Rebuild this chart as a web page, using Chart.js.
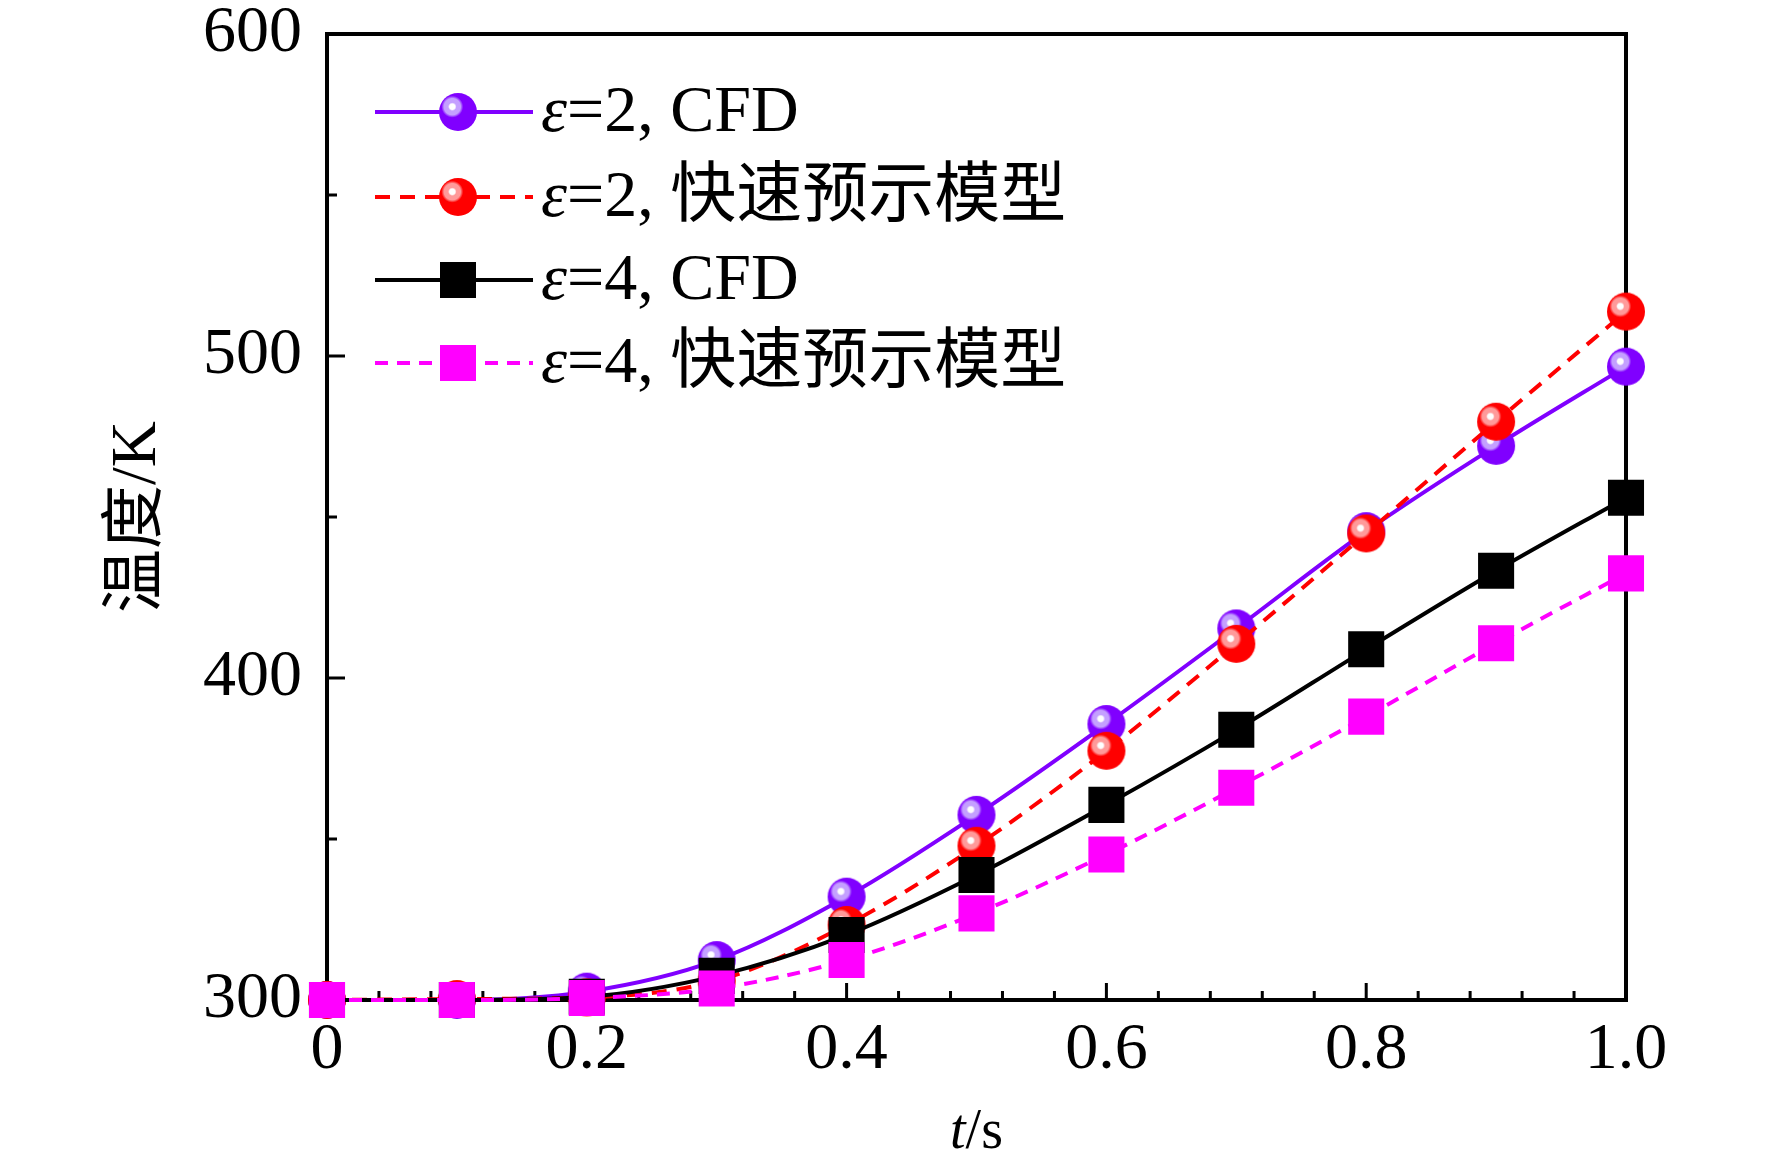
<!DOCTYPE html>
<html>
<head>
<meta charset="utf-8">
<script src="https://cdn.jsdelivr.net/npm/chart.js@4.4.1/dist/chart.umd.min.js"></script>
<style>
  html, body { margin: 0; padding: 0; background: #fff; }
  canvas { display: block; }
</style>
</head>
<body>
<canvas id="tempChart" width="1772" height="1168"></canvas>
<script>
// time points (s) and temperatures (K)
const tValues = [0, 0.1, 0.2, 0.3, 0.4, 0.5, 0.6, 0.7, 0.8, 0.9, 1.0];
const cfdEps2 = [300, 300, 302.6, 312.4, 332.1, 357.5, 385.7, 415.4, 445.6, 472.1, 496.7];
const modelEps2 = [300, 300.3, 300.8, 306.0, 323.3, 347.9, 377.4, 410.6, 444.9, 479.6, 513.8];
const cfdEps4 = [300, 300, 301.0, 307.5, 320.2, 338.8, 360.6, 383.9, 408.9, 433.3, 456.0];
const modelEps4 = [300, 300, 300.6, 303.6, 312.4, 326.9, 345.2, 365.9, 388.0, 410.8, 432.5];

const seriesLabels = ['=2, CFD', '=2, 快速预示模型', '=4, CFD', '=4, 快速预示模型'];
const xTickLabels = ['0', '0.2', '0.4', '0.6', '0.8', '1.0'];
const yTickLabels = ['300', '400', '500', '600'];

const SERIF = "'Liberation Serif', 'Times New Roman', 'Noto Sans CJK SC', serif";
const FONT_SIZE = 66;
const LEGEND_SIZE = 66;

// shiny sphere marker, like the Origin "ball" symbol
function makeBall(color, light, r) {
    const size = Math.ceil(2 * r + 2);
    const c = document.createElement('canvas');
    c.width = size;
    c.height = size;
    const g = c.getContext('2d');
    const cx = size / 2, cy = size / 2;
    const hx = cx - r * 0.3, hy = cy - r * 0.28;
    const grad = g.createRadialGradient(hx, hy, 0, hx, hy, r * 1.6);
    grad.addColorStop(0, '#ffffff');
    grad.addColorStop(0.09, '#ffffff');
    grad.addColorStop(0.14, light);
    grad.addColorStop(0.27, light);
    grad.addColorStop(0.36, color);
    grad.addColorStop(1, color);
    g.fillStyle = grad;
    g.beginPath();
    g.arc(cx, cy, r, 0, Math.PI * 2);
    g.fill();
    return c;
}

const purpleBall = makeBall('#8000ff', '#c4a0ff', 19);
const redBall = makeBall('#ff0000', '#ff9a9a', 19);

const series = [
    { label: seriesLabels[0], data: cfdEps2, color: '#8000ff', dash: [], point: purpleBall, radius: 19 },
    { label: seriesLabels[1], data: modelEps2, color: '#ff0000', dash: [15, 10], point: redBall, radius: 19 },
    { label: seriesLabels[2], data: cfdEps4, color: '#000000', dash: [], point: 'rect', radius: 25.5 },
    { label: seriesLabels[3], data: modelEps4, color: '#ff00ff', dash: [13, 9], point: 'rect', radius: 25.5 }
];

// frame, inward ticks, axis titles and the legend
const decorations = {
    id: 'decorations',
    beforeDatasetsDraw(chart) {
        const { ctx, chartArea: a, scales: { x, y } } = chart;
        ctx.save();
        ctx.strokeStyle = '#000';
        ctx.lineWidth = 4;
        ctx.strokeRect(a.left, a.top, a.right - a.left, a.bottom - a.top);

        ctx.lineWidth = 3;
        ctx.beginPath();
        for (let i = 0; i <= 25; i++) {
            const px = x.getPixelForValue(i * 0.04);
            const len = i % 5 === 0 ? 17 : 9;
            ctx.moveTo(px, a.bottom);
            ctx.lineTo(px, a.bottom - len);
        }
        for (let i = 0; i <= 6; i++) {
            const py = y.getPixelForValue(300 + i * 50);
            const len = i % 2 === 0 ? 18 : 10;
            ctx.moveTo(a.left, py);
            ctx.lineTo(a.left + len, py);
        }
        ctx.stroke();
        ctx.restore();
    },
    afterDatasetsDraw(chart) {
        const { ctx, chartArea: a } = chart;
        ctx.save();
        ctx.fillStyle = '#000';
        ctx.textBaseline = 'alphabetic';

        // x title: italic t + "/s"
        ctx.font = 'italic 56px ' + SERIF;
        const wT = ctx.measureText('t').width;
        ctx.font = '56px ' + SERIF;
        const wS = ctx.measureText('/s').width;
        const cx = (a.left + a.right) / 2;
        let sx = cx - (wT + wS) / 2;
        ctx.font = 'italic 56px ' + SERIF;
        ctx.fillText('t', sx, 1148);
        ctx.font = '56px ' + SERIF;
        ctx.fillText('/s', sx + wT, 1148);

        // y title
        ctx.save();
        ctx.translate(138, 517);
        ctx.rotate(-Math.PI / 2);
        ctx.textAlign = 'center';
        ctx.textBaseline = 'middle';
        ctx.font = '64px ' + SERIF;
        ctx.fillText('温度/K', 0, 0);
        ctx.restore();

        // legend
        const rows = [112, 197, 280, 363];
        series.forEach((s, i) => {
            const ry = rows[i];
            ctx.save();
            ctx.strokeStyle = s.color;
            ctx.lineWidth = 4;
            ctx.setLineDash(s.dash);
            ctx.beginPath();
            ctx.moveTo(375, ry);
            ctx.lineTo(533, ry);
            ctx.stroke();
            ctx.restore();
            if (s.point === 'rect') {
                const side = 36;
                ctx.fillStyle = s.color;
                ctx.fillRect(458 - side / 2, ry - side / 2, side, side);
            } else {
                ctx.drawImage(s.point, 458 - s.point.width / 2, ry - s.point.height / 2);
            }
            ctx.fillStyle = '#000';
            ctx.font = 'italic ' + LEGEND_SIZE + 'px ' + SERIF;
            ctx.fillText('ε', 541, ry + 19);
            const wE = ctx.measureText('ε').width;
            ctx.font = LEGEND_SIZE + 'px ' + SERIF;
            ctx.fillText(s.label, 541 + wE, ry + 19);
        });
        ctx.restore();
    }
};

document.addEventListener('DOMContentLoaded', () => {
    const ctx = document.getElementById('tempChart');
    // draw order: purple at the bottom, magenta on top
    const datasets = series.map((s, i) => ({
        label: s.label,
        data: s.data,
        borderColor: s.color,
        backgroundColor: s.color,
        borderWidth: 4,
        borderDash: s.dash,
        pointStyle: s.point,
        pointRadius: s.radius,
        pointBackgroundColor: s.color,
        pointBorderWidth: 0,
        cubicInterpolationMode: 'monotone',
        clip: false,
        order: series.length - i
    }));

    new Chart(ctx, {
        type: 'line',
        data: { labels: tValues, datasets: datasets },
        options: {
            responsive: false,
            devicePixelRatio: 1,
            animation: false,
            layout: { padding: { top: 34, right: 146, left: 0, bottom: 0 } },
            plugins: {
                legend: { display: false },
                tooltip: { enabled: false }
            },
            scales: {
                x: {
                    type: 'linear',
                    min: 0,
                    max: 1,
                    grid: { display: false, drawTicks: false },
                    border: { display: false },
                    ticks: {
                        stepSize: 0.2,
                        autoSkip: false,
                        maxRotation: 0,
                        padding: 11,
                        color: '#000',
                        font: { family: SERIF, size: FONT_SIZE },
                        callback: (v) => xTickLabels[Math.round(v / 0.2)]
                    },
                    afterFit: (scale) => {
                        scale.height = 168;
                        scale.paddingLeft = 0;
                        scale.paddingRight = 0;
                    }
                },
                y: {
                    min: 300,
                    max: 600,
                    grid: { display: false, drawTicks: false },
                    border: { display: false },
                    ticks: {
                        stepSize: 100,
                        padding: 25,
                        color: '#000',
                        font: { family: SERIF, size: FONT_SIZE },
                        callback: (v) => yTickLabels[Math.round((v - 300) / 100)]
                    },
                    afterFit: (scale) => {
                        scale.width = 327;
                        scale.paddingTop = 0;
                        scale.paddingBottom = 0;
                    }
                }
            }
        },
        plugins: [decorations]
    });
});
</script>
</body>
</html>
